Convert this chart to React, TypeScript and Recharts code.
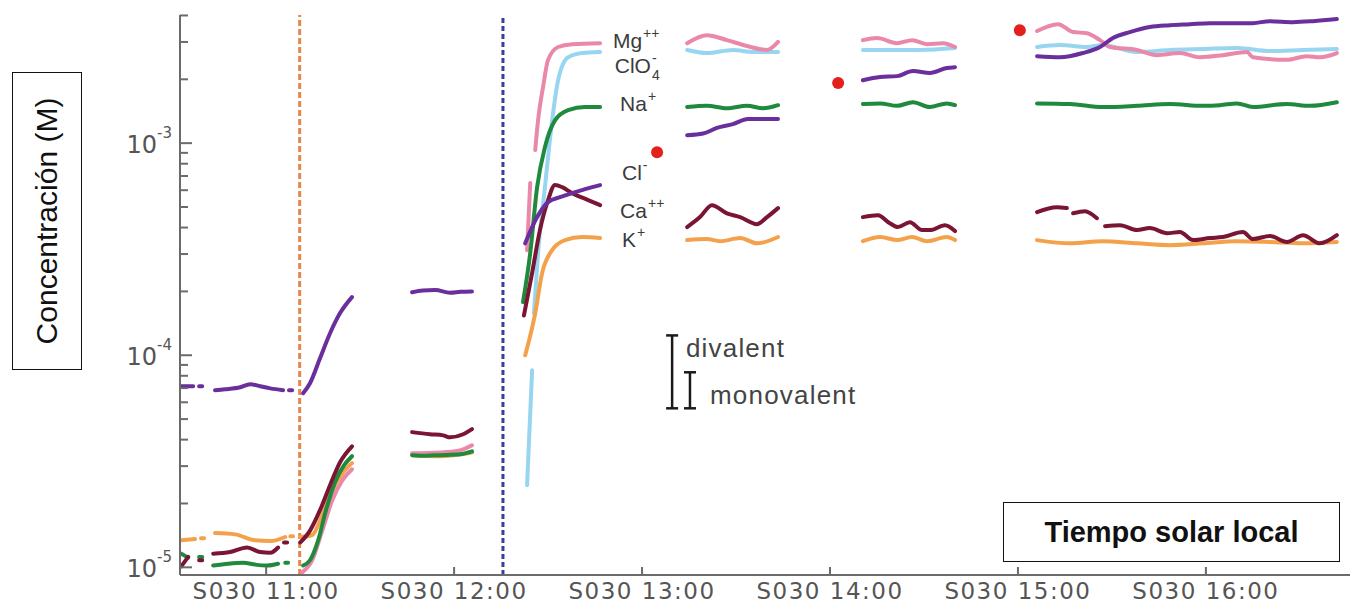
import React from "react";
import {
  ComposedChart,
  Line,
  Scatter,
  XAxis,
  YAxis,
  ReferenceLine,
  ReferenceDot,
} from "recharts";

// time: minutes after midnight (local solar time), value: concentration in M
type Seg = [number, number][];

const MG_SEGS: Seg[] = [
  [[671.5, 9.46e-6], [674.7, 1.08e-5], [677.9, 1.49e-5], [681.1, 2.07e-5], [684.3, 2.57e-5], [687.4, 2.9e-5]],
  [[706.6, 3.45e-5], [715.5, 3.48e-5], [721.9, 3.56e-5], [725.7, 3.76e-5]],
  [[743.3, 3.13e-4], [744.3, 6.48e-4]],
  [[745.9, 9.27e-4], [746.8, 1.28e-3], [748.4, 1.84e-3], [750.0, 2.47e-3], [753.2, 2.84e-3], [757.7, 2.93e-3], [766.6, 2.96e-3]],
  [[794.4, 2.96e-3], [800.7, 3.23e-3], [807.1, 3.06e-3], [813.5, 2.87e-3], [819.9, 2.75e-3], [823.4, 3.0e-3]],
  [[850.5, 3.06e-3], [855.0, 3.13e-3], [861.4, 2.96e-3], [866.2, 3.06e-3], [871.0, 2.93e-3], [876.1, 2.96e-3], [879.9, 2.84e-3]],
  [[906.1, 3.38e-3], [912.8, 3.64e-3], [917.6, 3.34e-3], [922.0, 3.3e-3], [926.2, 3.06e-3], [929.4, 2.84e-3], [938.0, 2.75e-3], [944.4, 2.6e-3], [951.7, 2.66e-3], [958.1, 2.54e-3], [965.4, 2.6e-3], [973.1, 2.69e-3], [975.0, 2.54e-3], [985.9, 2.47e-3], [992.2, 2.57e-3], [996.4, 2.54e-3], [1001.8, 2.66e-3]],
];

const CLO4_SEGS: Seg[] = [
  [[743.3, 2.44e-5], [744.9, 8.49e-5]],
  [[745.5, 1.58e-4], [746.8, 3.03e-4], [749.0, 6.2e-4], [751.3, 1.28e-3], [753.2, 1.98e-3], [756.4, 2.54e-3], [760.9, 2.66e-3], [766.6, 2.69e-3]],
  [[794.4, 2.75e-3], [800.7, 2.66e-3], [809.0, 2.75e-3], [815.4, 2.69e-3], [823.4, 2.69e-3]],
  [[850.5, 2.75e-3], [858.2, 2.75e-3], [868.7, 2.75e-3], [879.9, 2.81e-3]],
  [[906.1, 2.84e-3], [913.4, 2.9e-3], [922.0, 2.84e-3], [927.1, 2.9e-3], [938.0, 2.69e-3], [948.5, 2.75e-3], [959.0, 2.78e-3], [969.9, 2.81e-3], [980.4, 2.72e-3], [991.0, 2.75e-3], [1001.8, 2.78e-3]],
];

const NA_SEGS: Seg[] = [
  [[632.9, 1.16e-5], [635.1, 1.11e-5]],
  [[638.6, 1.12e-5], [639.6, 1.12e-5]],
  [[643.1, 1.02e-5], [647.9, 1.04e-5], [652.7, 1.05e-5], [656.5, 1.03e-5], [660.3, 1.02e-5], [663.8, 1.04e-5]],
  [[666.1, 1.05e-5], [667.0, 1.05e-5]],
  [[671.8, 1.02e-5], [674.0, 1.08e-5], [676.6, 1.34e-5], [679.1, 1.86e-5], [682.0, 2.52e-5], [684.9, 3.03e-5], [687.4, 3.34e-5]],
  [[706.6, 3.38e-5], [711.0, 3.36e-5], [715.5, 3.38e-5], [721.9, 3.41e-5], [725.7, 3.52e-5]],
  [[742.0, 1.78e-4], [744.3, 3.03e-4], [746.5, 6.2e-4], [749.0, 9.57e-4], [752.2, 1.28e-3], [756.4, 1.43e-3], [761.8, 1.48e-3], [766.6, 1.48e-3]],
  [[794.4, 1.48e-3], [800.7, 1.5e-3], [807.1, 1.46e-3], [813.5, 1.5e-3], [818.6, 1.46e-3], [823.4, 1.51e-3]],
  [[850.5, 1.53e-3], [856.0, 1.54e-3], [861.4, 1.5e-3], [866.5, 1.56e-3], [871.9, 1.48e-3], [877.3, 1.54e-3], [879.9, 1.51e-3]],
  [[906.1, 1.54e-3], [916.6, 1.53e-3], [927.1, 1.48e-3], [938.0, 1.5e-3], [948.5, 1.53e-3], [959.0, 1.5e-3], [964.5, 1.51e-3], [969.9, 1.54e-3], [975.0, 1.48e-3], [985.8, 1.53e-3], [993.2, 1.5e-3], [1001.8, 1.56e-3]],
];

const CL_SEGS: Seg[] = [
  [[632.9, 7.14e-5], [636.7, 7.14e-5]],
  [[638.6, 7.14e-5], [639.6, 7.14e-5]],
  [[643.7, 6.84e-5], [646.9, 6.91e-5], [651.7, 7.06e-5], [654.9, 7.3e-5], [658.1, 7.14e-5], [661.3, 6.98e-5], [665.4, 6.84e-5]],
  [[667.3, 6.84e-5], [668.3, 6.84e-5]],
  [[671.8, 6.62e-5], [674.0, 7.38e-5], [677.2, 9.68e-5], [680.4, 1.27e-4], [683.6, 1.58e-4], [687.4, 1.88e-4]],
  [[706.6, 1.98e-4], [710.0, 2.02e-4], [714.0, 2.03e-4], [718.7, 1.97e-4], [722.0, 1.99e-4], [725.7, 2.0e-4]],
  [[742.7, 3.37e-4], [746.5, 4.48e-4], [750.0, 5.27e-4], [753.8, 5.56e-4], [757.7, 5.81e-4], [761.8, 6.07e-4], [766.6, 6.34e-4]],
  [[794.4, 1.09e-3], [799.5, 1.11e-3], [803.9, 1.18e-3], [809.0, 1.23e-3], [813.8, 1.3e-3], [818.3, 1.3e-3], [823.4, 1.3e-3]],
  [[850.5, 1.98e-3], [856.0, 2.05e-3], [861.4, 2.07e-3], [866.5, 2.19e-3], [871.9, 2.14e-3], [877.3, 2.26e-3], [879.9, 2.28e-3]],
  [[906.1, 2.57e-3], [913.4, 2.54e-3], [920.7, 2.66e-3], [926.2, 2.84e-3], [930.3, 3.13e-3], [935.7, 3.34e-3], [942.1, 3.53e-3], [948.5, 3.6e-3], [954.9, 3.64e-3], [961.3, 3.68e-3], [967.7, 3.68e-3], [975.0, 3.68e-3], [980.4, 3.76e-3], [987.8, 3.72e-3], [994.2, 3.76e-3], [1001.8, 3.85e-3]],
];

const CA_SEGS: Seg[] = [
  [[632.9, 1.01e-5], [635.1, 1.12e-5]],
  [[638.6, 1.08e-5], [639.6, 1.08e-5]],
  [[643.1, 1.16e-5], [648.5, 1.18e-5], [653.9, 1.24e-5], [658.1, 1.18e-5], [661.3, 1.17e-5], [663.8, 1.24e-5]],
  [[665.7, 1.31e-5], [666.7, 1.31e-5]],
  [[670.9, 1.31e-5], [674.0, 1.49e-5], [677.2, 1.86e-5], [680.4, 2.44e-5], [683.6, 3.13e-5], [687.4, 3.72e-5]],
  [[706.6, 4.34e-5], [712.3, 4.24e-5], [716.5, 4.19e-5], [718.7, 4.1e-5], [722.9, 4.24e-5], [725.7, 4.48e-5]],
  [[742.3, 1.54e-4], [744.9, 2.44e-4], [747.4, 3.89e-4], [750.0, 5.39e-4], [752.2, 6.34e-4], [754.5, 6.2e-4], [757.7, 5.81e-4], [762.8, 5.39e-4], [766.6, 5.1e-4]],
  [[794.4, 4.02e-4], [798.5, 4.48e-4], [802.3, 5.1e-4], [807.1, 4.67e-4], [811.3, 4.48e-4], [816.7, 4.15e-4], [819.9, 4.48e-4], [823.4, 4.94e-4]],
  [[850.5, 4.48e-4], [855.3, 4.57e-4], [859.1, 4.19e-4], [861.7, 4.02e-4], [865.5, 4.24e-4], [869.4, 3.89e-4], [871.9, 3.89e-4], [876.7, 4.1e-4], [879.9, 3.85e-4]],
  [[906.1, 4.73e-4], [912.4, 4.99e-4], [915.6, 4.94e-4]],
  [[917.6, 4.67e-4], [921.4, 4.78e-4], [925.2, 4.43e-4]],
  [[927.8, 4.06e-4], [932.6, 4.1e-4], [938.0, 3.89e-4], [942.1, 3.98e-4], [947.6, 3.76e-4], [951.7, 3.81e-4], [955.9, 3.49e-4], [961.3, 3.57e-4], [965.4, 3.61e-4], [971.8, 3.81e-4], [975.0, 3.53e-4], [980.4, 3.65e-4], [985.9, 3.42e-4], [991.0, 3.68e-4], [996.4, 3.37e-4], [1001.8, 3.68e-4]],
];

const K_SEGS: Seg[] = [
  [[632.9, 1.34e-5], [637.3, 1.36e-5]],
  [[639.2, 1.37e-5], [640.2, 1.37e-5]],
  [[643.7, 1.45e-5], [650.1, 1.43e-5], [656.5, 1.34e-5], [661.3, 1.33e-5], [666.1, 1.39e-5]],
  [[667.7, 1.4e-5], [668.6, 1.4e-5]],
  [[670.9, 1.39e-5], [674.7, 1.42e-5], [677.9, 1.76e-5], [681.1, 2.31e-5], [684.3, 2.77e-5], [687.4, 3.1e-5]],
  [[706.6, 3.38e-5], [715.5, 3.34e-5], [725.7, 3.48e-5]],
  [[742.7, 1.0e-4], [745.9, 1.58e-4], [748.1, 2.44e-4], [751.3, 3.13e-4], [755.4, 3.49e-4], [760.9, 3.61e-4], [766.6, 3.57e-4]],
  [[794.4, 3.49e-4], [800.7, 3.53e-4], [804.9, 3.45e-4], [811.3, 3.57e-4], [816.7, 3.37e-4], [823.4, 3.61e-4]],
  [[850.5, 3.45e-4], [856.0, 3.61e-4], [861.4, 3.49e-4], [866.2, 3.61e-4], [871.0, 3.45e-4], [877.3, 3.61e-4], [879.9, 3.49e-4]],
  [[906.1, 3.49e-4], [916.6, 3.37e-4], [927.1, 3.45e-4], [938.0, 3.37e-4], [948.5, 3.3e-4], [959.0, 3.37e-4], [969.9, 3.45e-4], [980.4, 3.42e-4], [991.0, 3.37e-4], [1001.8, 3.42e-4]],
];

// single reference samples (red dots)
const RED_DOTS = [
  { t: 784.8, v: 9.07e-4 },
  { t: 842.6, v: 1.92e-3 },
  { t: 900.6, v: 3.41e-3 },
];

const X_TICKS = [660, 720, 780, 840, 900, 960];
const X_LABELS = ["S030 11:00", "S030 12:00", "S030 13:00", "S030 14:00", "S030 15:00", "S030 16:00"];
const Y_TICKS = [
  1e-5, 2e-5, 3e-5, 4e-5, 5e-5, 6e-5, 7e-5, 8e-5, 9e-5,
  1e-4, 2e-4, 3e-4, 4e-4, 5e-4, 6e-4, 7e-4, 8e-4, 9e-4,
  1e-3, 2e-3, 3e-3, 4e-3,
];
const Y_MAJOR = [1e-5, 1e-4, 1e-3];
const Y_MAJOR_LABELS = ["-5", "-4", "-3"];

const ION_LABELS = [
  { base: "Mg", sup: "++", sub: "", t: 770.7, v: 3.06e-3 },
  { base: "ClO", sup: "-", sub: "4", t: 771.3, v: 2.33e-3 },
  { base: "Na", sup: "+", sub: "", t: 773.0, v: 1.54e-3 },
  { base: "Cl", sup: "-", sub: "", t: 773.6, v: 7.3e-4 },
  { base: "Ca", sup: "++", sub: "", t: 773.0, v: 4.83e-4 },
  { base: "K", sup: "+", sub: "", t: 773.6, v: 3.53e-4 },
];

// error scale bars
const SCALE_BARS = [
  { name: "divalent", t: 789.6, lo: 5.62e-5, hi: 1.24e-4, textT: 794.0, textV: 1.08e-4 },
  { name: "monovalent", t: 795.3, lo: 5.62e-5, hi: 8.31e-5, textT: 801.7, textV: 6.48e-5 },
];

const SERIES = [
  { key: "ClO4", segs: CLO4_SEGS, color: "#98d5f1" },
  { key: "Mg", segs: MG_SEGS, color: "#ea88a9" },
  { key: "K", segs: K_SEGS, color: "#f3a24b" },
  { key: "Na", segs: NA_SEGS, color: "#1f8a3d" },
  { key: "Ca", segs: CA_SEGS, color: "#7a1634" },
  { key: "Cl", segs: CL_SEGS, color: "#6a2e9d" },
];

function toRows(segs: Seg[]) {
  const rows: { t: number; v: number | null }[] = [];
  segs.forEach((s, i) => {
    if (i > 0) {
      const prev = segs[i - 1];
      rows.push({ t: (prev[prev.length - 1][0] + s[0][0]) / 2, v: null });
    }
    s.forEach(([t, v]) => rows.push({ t, v }));
  });
  return rows;
}

const AXIS = "#6b6b6b";
const TICK_FONT = "'DejaVu Sans', sans-serif";
const LABEL_FONT = "'Liberation Sans', Arial, sans-serif";
const ION_SIZE = 21;

let ctx: CanvasRenderingContext2D | null = null;
function textWidth(s: string, size: number) {
  if (!ctx) ctx = document.createElement("canvas").getContext("2d");
  if (!ctx) return s.length * size * 0.6;
  ctx.font = `${size}px 'Liberation Sans'`;
  return ctx.measureText(s).width;
}

function YTick({ x, y, payload }: any) {
  const idx = Y_MAJOR.findIndex((m) => Math.abs(m - payload.value) / m < 1e-6);
  const major = idx >= 0;
  return (
    <g>
      <line x1={x} x2={x + (major ? 12 : 8)} y1={y} y2={y} stroke={AXIS} strokeWidth={2} />
      {major && (
        <text x={x - 8} y={y + 10} textAnchor="end" fill="#555" fontFamily={TICK_FONT}>
          <tspan fontSize={24}>10</tspan>
          <tspan fontSize={15} dy={-15}>{Y_MAJOR_LABELS[idx]}</tspan>
        </text>
      )}
    </g>
  );
}

function XTick({ x, y, payload, index }: any) {
  return (
    <g>
      <line x1={x} x2={x} y1={y} y2={y - 8} stroke={AXIS} strokeWidth={2} />
      <text
        x={x}
        y={y + 24}
        textAnchor="middle"
        fill="#555"
        fontFamily={TICK_FONT}
        fontSize={23}
        letterSpacing={1.5}
      >
        {X_LABELS[index] ?? payload.value}
      </text>
    </g>
  );
}

function IonLabel(lab: (typeof ION_LABELS)[number]) {
  return (props: any) => {
    const w = textWidth(lab.base, ION_SIZE) + 1;
    return (
      <g fill="#3b3b3b" fontFamily={LABEL_FONT}>
        <text x={props.cx} y={props.cy + 8} fontSize={ION_SIZE}>
          {lab.base}
        </text>
        <text x={props.cx + w} y={props.cy - 2} fontSize={14}>
          {lab.sup}
        </text>
        {lab.sub && (
          <text x={props.cx + w} y={props.cy + 15} fontSize={14}>
            {lab.sub}
          </text>
        )}
      </g>
    );
  };
}

function IBeam(props: any) {
  const { x1, y1, y2 } = props;
  return (
    <g stroke="#1a1a1a" strokeWidth={2.5}>
      <line x1={x1} x2={x1} y1={y1} y2={y2} />
      <line x1={x1 - 6} x2={x1 + 6} y1={y1} y2={y1} />
      <line x1={x1 - 6} x2={x1 + 6} y1={y2} y2={y2} />
    </g>
  );
}

export default function App() {
  return (
    <div style={{ position: "absolute", left: 0, top: 0, width: 1358, height: 608, background: "#fff" }}>
      <ComposedChart
        width={1358}
        height={608}
        margin={{ top: 15, right: 8, bottom: 0, left: 0 }}
      >
        <XAxis
          dataKey="t"
          type="number"
          domain={[632.5, 1006]}
          allowDataOverflow
          ticks={X_TICKS}
          tick={<XTick />}
          tickLine={false}
          tickSize={0}
          tickMargin={0}
          height={33}
          axisLine={{ stroke: AXIS, strokeWidth: 2 }}
          interval={0}
        />
        <YAxis
          dataKey="v"
          type="number"
          scale="log"
          domain={[9.2e-6, 4.02e-3]}
          allowDataOverflow
          ticks={Y_TICKS}
          tick={<YTick />}
          tickLine={false}
          tickSize={0}
          tickMargin={0}
          width={180}
          interval={0}
          axisLine={{ stroke: AXIS, strokeWidth: 2 }}
        />
        <ReferenceLine x={670.7} stroke="#e5874a" strokeWidth={3} strokeDasharray="6 3" />
        <ReferenceLine x={735.6} stroke="#3a3d9c" strokeWidth={3} strokeDasharray="5 3" />
        {SERIES.map((s) => (
          <Line
            key={s.key}
            data={toRows(s.segs)}
            dataKey="v"
            type="monotone"
            stroke={s.color}
            strokeWidth={4}
            strokeLinecap="round"
            strokeLinejoin="round"
            dot={false}
            activeDot={false}
            connectNulls={false}
            isAnimationActive={false}
          />
        ))}
        <Scatter
          data={RED_DOTS}
          dataKey="v"
          fill="#e3201b"
          isAnimationActive={false}
          shape={(p: any) => <circle cx={p.cx} cy={p.cy} r={6} fill="#e3201b" />}
        />
        {ION_LABELS.map((lab) => (
          <ReferenceDot key={lab.base + lab.sup} x={lab.t} y={lab.v} r={0} shape={IonLabel(lab)} />
        ))}
        {SCALE_BARS.map((b) => (
          <ReferenceLine
            key={b.name}
            segment={[
              { x: b.t, y: b.hi },
              { x: b.t, y: b.lo },
            ]}
            shape={IBeam}
          />
        ))}
        {SCALE_BARS.map((b) => (
          <ReferenceDot
            key={b.name + "-text"}
            x={b.textT}
            y={b.textV}
            r={0}
            shape={(p: any) => (
              <text x={p.cx} y={p.cy + 9} fill="#444" fontFamily={LABEL_FONT} fontSize={26} letterSpacing={1.2}>
                {b.name}
              </text>
            )}
          />
        ))}
      </ComposedChart>
      <div
        style={{
          position: "absolute",
          left: 12,
          top: 72,
          width: 68,
          height: 296,
          border: "1.5px solid #111",
          background: "#fff",
          display: "flex",
          alignItems: "center",
          justifyContent: "center",
        }}
      >
        <div
          style={{
            transform: "rotate(-90deg)",
            whiteSpace: "nowrap",
            fontFamily: LABEL_FONT,
            fontSize: 30,
            color: "#111",
          }}
        >
          Concentración (M)
        </div>
      </div>
      <div
        style={{
          position: "absolute",
          left: 1003,
          top: 502,
          width: 335,
          height: 58,
          border: "1.5px solid #111",
          background: "#fff",
          display: "flex",
          alignItems: "center",
          justifyContent: "center",
          fontFamily: LABEL_FONT,
          fontWeight: 700,
          fontSize: 29,
          color: "#111",
        }}
      >
        Tiempo solar local
      </div>
    </div>
  );
}
